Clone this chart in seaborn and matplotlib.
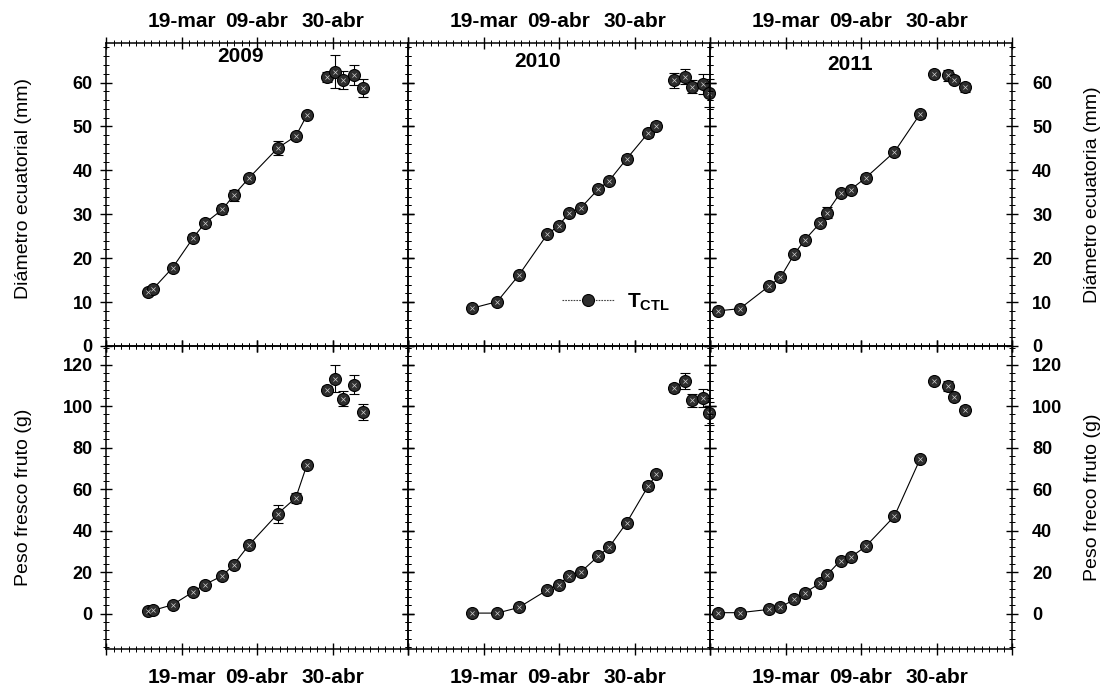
import numpy as np
import pandas as pd
import matplotlib
matplotlib.use("Agg")
import matplotlib.pyplot as plt
from matplotlib.lines import Line2D
from matplotlib.ticker import FixedLocator, MultipleLocator
import seaborn as sns

# ---------------------------------------------------------------------------
# Data: days counted from 19-mar; fruit diameter (mm) and fresh weight (g)
# ---------------------------------------------------------------------------
years = ["2009", "2010", "2011"]
date_labels = ["19-mar", "09-abr", "30-abr"]
date_ticks = [0, 21, 42]

# 2009 - growth phase (connected) and harvest phase (unconnected)
days_2009 = [-9.2, -7.9, -2.5, 3.3, 6.4, 11.4, 14.5, 18.7, 26.8, 31.8, 34.9]
diam_2009 = [12.3, 13.0, 17.8, 24.7, 27.9, 31.1, 34.3, 38.2, 45.1, 47.8, 52.6]
diam_err_2009 = [0.5, 0.5, 0.6, 0.8, 0.8, 1.0, 1.3, 0.8, 1.6, 0.8, 0.6]
peso_2009 = [1.2, 1.6, 4.3, 10.6, 14.0, 18.3, 23.6, 33.0, 48.2, 55.9, 71.8]
peso_err_2009 = [0.5, 0.5, 0.6, 0.8, 0.8, 1.0, 1.5, 1.5, 4.4, 2.5, 1.5]
late_days_2009 = [40.4, 42.8, 44.8, 47.9, 50.6]
late_diam_2009 = [61.3, 62.5, 60.6, 61.8, 58.8]
late_diam_err_2009 = [1.2, 3.8, 2.1, 2.3, 2.1]
late_peso_2009 = [108.0, 113.3, 103.6, 110.4, 97.3]
late_peso_err_2009 = [1.5, 6.6, 3.6, 4.4, 3.8]

# 2010
days_2010 = [-3.2, 3.8, 9.8, 17.7, 20.9, 23.9, 27.0, 31.9, 34.9, 39.8, 45.8, 48.1]
diam_2010 = [8.6, 10.1, 16.1, 25.4, 27.4, 30.4, 31.4, 35.7, 37.6, 42.6, 48.5, 50.2]
diam_err_2010 = [0.4, 0.5, 0.5, 0.6, 0.6, 0.6, 0.6, 0.7, 0.7, 0.8, 0.8, 0.8]
peso_2010 = [0.3, 0.3, 3.0, 11.4, 14.0, 18.4, 20.0, 27.7, 32.0, 43.8, 61.5, 67.1]
peso_err_2010 = [0.3, 0.3, 0.5, 0.8, 0.8, 1.0, 1.0, 1.2, 1.2, 1.5, 1.8, 1.8]
late_days_2010 = [53.0, 56.0, 58.0, 61.0, 62.8]
late_diam_2010 = [60.5, 61.3, 59.0, 59.6, 57.7]
late_diam_err_2010 = [1.7, 1.7, 1.5, 2.3, 3.2]
late_peso_2010 = [108.8, 112.0, 102.9, 104.0, 96.5]
late_peso_err_2010 = [2.0, 3.9, 3.2, 4.4, 5.4]

# 2011
days_2011 = [-18.8, -12.7, -4.5, -1.4, 2.5, 5.4, 9.6, 11.5, 15.3, 18.1, 22.3, 30.3, 37.4]
diam_2011 = [8.0, 8.5, 13.7, 15.6, 21.0, 24.2, 28.0, 30.4, 34.9, 35.6, 38.3, 44.2, 52.8]
diam_err_2011 = [0.4, 0.4, 0.5, 0.5, 0.6, 0.6, 0.7, 1.2, 0.7, 0.7, 0.8, 0.8, 0.8]
peso_2011 = [0.5, 0.5, 2.1, 3.2, 6.9, 10.2, 14.6, 18.6, 25.6, 27.2, 32.4, 47.0, 74.4]
peso_err_2011 = [0.3, 0.3, 0.4, 0.5, 0.6, 0.7, 0.8, 0.9, 1.0, 1.0, 1.2, 1.5, 1.5]
late_days_2011 = [41.3, 45.1, 47.0, 50.0]
late_diam_2011 = [61.9, 61.6, 60.6, 58.9]
late_diam_err_2011 = [0.4, 1.2, 0.8, 1.0]
late_peso_2011 = [112.1, 109.7, 104.4, 98.4]
late_peso_err_2011 = [1.0, 2.5, 1.5, 1.5]

series = {
    "2009": dict(days=days_2009, diam=diam_2009, diam_err=diam_err_2009,
                 peso=peso_2009, peso_err=peso_err_2009,
                 late_days=late_days_2009, late_diam=late_diam_2009,
                 late_diam_err=late_diam_err_2009, late_peso=late_peso_2009,
                 late_peso_err=late_peso_err_2009),
    "2010": dict(days=days_2010, diam=diam_2010, diam_err=diam_err_2010,
                 peso=peso_2010, peso_err=peso_err_2010,
                 late_days=late_days_2010, late_diam=late_diam_2010,
                 late_diam_err=late_diam_err_2010, late_peso=late_peso_2010,
                 late_peso_err=late_peso_err_2010),
    "2011": dict(days=days_2011, diam=diam_2011, diam_err=diam_err_2011,
                 peso=peso_2011, peso_err=peso_err_2011,
                 late_days=late_days_2011, late_diam=late_diam_2011,
                 late_diam_err=late_diam_err_2011, late_peso=late_peso_2011,
                 late_peso_err=late_peso_err_2011),
}

# ---------------------------------------------------------------------------
# Style
# ---------------------------------------------------------------------------
sns.set_theme(style="white")
plt.rcParams["font.family"] = ["Liberation Sans", "DejaVu Sans"]
plt.rcParams["mathtext.fontset"] = "custom"
plt.rcParams["mathtext.rm"] = "Liberation Sans"
plt.rcParams["mathtext.bf"] = "Liberation Sans:bold"
plt.rcParams["axes.edgecolor"] = "black"
plt.rcParams["axes.linewidth"] = 1.1
plt.rcParams["text.color"] = "black"
plt.rcParams["axes.labelcolor"] = "black"
plt.rcParams["xtick.color"] = "black"
plt.rcParams["ytick.color"] = "black"

FACE = "#2e2e2e"
MS = 8.6

fig = plt.figure(figsize=(11.12, 6.96), dpi=100)
fig.patch.set_facecolor("white")
W, H = 1112.0, 696.0
col_left = [106, 408, 710]
col_w = 302
row_top = [43, 346]
row_h = 303


def add_panel(col, row):
    left = col_left[col] / W
    bottom = 1 - (row_top[row] + row_h) / H
    return fig.add_axes([left, bottom, col_w / W, row_h / H])


def draw(ax, days, vals, errs, late_days, late_vals, late_errs):
    ax.errorbar(days, vals, yerr=errs, fmt="none", ecolor="black",
                elinewidth=0.8, capsize=3.5, capthick=0.8, zorder=2)
    ax.errorbar(late_days, late_vals, yerr=late_errs, fmt="none",
                ecolor="black", elinewidth=0.8, capsize=3.5, capthick=0.8,
                zorder=2, clip_on=False)
    sns.lineplot(x=days, y=vals, ax=ax, sort=False, estimator=None,
                 errorbar=None, color="black", lw=0.8, marker="o",
                 markersize=MS, markerfacecolor=FACE,
                 markeredgecolor="black", markeredgewidth=0.8, zorder=3)
    sns.scatterplot(x=late_days, y=late_vals, ax=ax, s=MS ** 2, color=FACE,
                    edgecolor="black", linewidth=0.8, zorder=3,
                    legend=False, clip_on=False)
    # light speckle inside the filled markers
    ax.scatter(list(days) + list(late_days), list(vals) + list(late_vals),
               marker="x", s=9, color="#cfcfcf", linewidths=0.5, zorder=4,
               clip_on=False)


for col, year in enumerate(years):
    d = series[year]
    ax_t = add_panel(col, 0)
    ax_b = add_panel(col, 1)

    draw(ax_t, d["days"], d["diam"], d["diam_err"],
         d["late_days"], d["late_diam"], d["late_diam_err"])
    draw(ax_b, d["days"], d["peso"], d["peso_err"],
         d["late_days"], d["late_peso"], d["late_peso_err"])

    ax_t.set_ylim(0, 69)
    ax_b.set_ylim(-17, 129)
    ax_t.yaxis.set_major_locator(FixedLocator([0, 10, 20, 30, 40, 50, 60]))
    ax_t.yaxis.set_minor_locator(MultipleLocator(2))
    ax_b.yaxis.set_major_locator(FixedLocator([0, 20, 40, 60, 80, 100, 120]))
    ax_b.yaxis.set_minor_locator(MultipleLocator(4))

    for ax in (ax_t, ax_b):
        ax.set_xlim(-21, 63)
        ax.xaxis.set_major_locator(FixedLocator([-21] + date_ticks + [63]))
        ax.set_xticklabels([""] + date_labels + [""])
        ax.xaxis.set_minor_locator(MultipleLocator(2.1))
        ax.set_xlabel("")
        ax.set_ylabel("")
        ax.tick_params(which="both", direction="inout", top=True, bottom=True,
                       left=True, right=True, colors="black",
                       labelcolor="black")
        ax.tick_params(which="major", length=9, width=1.0)
        ax.tick_params(which="minor", length=4, width=0.7)
        ax.tick_params(axis="y", labelleft=(col == 0), labelright=(col == 2),
                       labelsize=13)
        for lab in ax.get_yticklabels():
            lab.set_fontweight("bold")
        for sp in ax.spines.values():
            sp.set_visible(True)
            sp.set_color("black")
        # transparent panels so markers on a shared border stay visible
        ax.set_facecolor("none")

    ax_t.tick_params(axis="x", labeltop=True, labelbottom=False, labelsize=15,
                     pad=4)
    ax_b.tick_params(axis="x", labeltop=False, labelbottom=True, labelsize=15,
                     pad=9.5)
    for ax in (ax_t, ax_b):
        for lab in ax.get_xticklabels():
            lab.set_fontweight("bold")
        if col == 0:
            ax.tick_params(axis="y", pad=5)
        if col == 2:
            ax.tick_params(axis="y", pad=10)

    year_y = [0.954, 0.94, 0.93][col]
    year_x = [0.445, 0.43, 0.465][col]
    ax_t.text(year_x, year_y, year, transform=ax_t.transAxes, ha="center",
              va="center", fontsize=15, fontweight="bold", color="black")

    if col == 0:
        ax_t.set_ylabel("Diámetro ecuatorial (mm)", fontsize=14)
        ax_b.set_ylabel("Peso fresco fruto (g)", fontsize=14)
        ax_t.yaxis.set_label_coords(-0.245, 0.52)
        ax_b.yaxis.set_label_coords(-0.245, 0.5)
    if col == 2:
        for ax, lab in ((ax_t, "Diámetro ecuatoria (mm)"),
                        (ax_b, "Peso freco fruto (g)")):
            ax.yaxis.set_label_position("right")
            ax.set_ylabel(lab, fontsize=14, rotation=90)
            ax.yaxis.set_label_coords(1.24, 0.5)

    if col == 1:
        handle = Line2D([0], [0], color="#444444", lw=0.8, ls=(0, (1.5, 1)),
                        marker="o", markersize=MS, markerfacecolor=FACE,
                        markeredgecolor="black", markeredgewidth=0.8)
        ax_t.legend([handle], [r"T$_{\mathbf{CTL}}$"], loc="center left",
                    bbox_to_anchor=(0.51, 0.145), frameon=False,
                    handlelength=2.5, handletextpad=0.6, borderpad=0,
                    borderaxespad=0,
                    prop={"size": 15, "weight": "bold"})

fig.savefig("out.png", dpi=100, facecolor="white")
